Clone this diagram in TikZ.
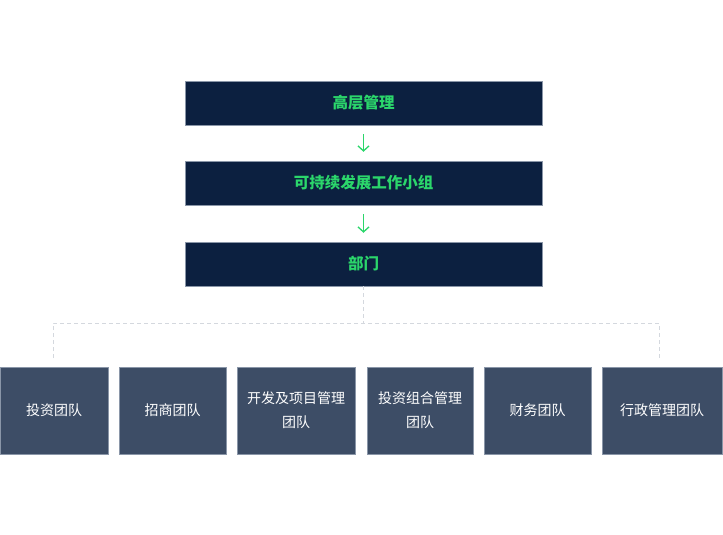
\documentclass[tikz,border=0pt]{standalone}
\usepackage{fontspec}
\newfontfamily\cjk{Noto Sans CJK SC}
\usetikzlibrary{arrows.meta}
\definecolor{navy}{HTML}{0C2040}
\definecolor{grn}{HTML}{2BD66B}
\definecolor{slate}{HTML}{3D4D66}
\definecolor{slateb}{HTML}{8A96A8}
\definecolor{dashc}{HTML}{D4D8DE}
\begin{document}
\begin{tikzpicture}[x=1pt,y=-1pt,
  topbox/.style={fill=navy,draw=slateb,line width=0.4pt,minimum width=357pt,minimum height=44pt,inner sep=0pt,text=grn,font=\cjk\bfseries\fontsize{15.5}{18}\selectfont},
  teambox/.style={fill=slate,draw=slateb,line width=0.4pt,minimum height=87pt,inner sep=0pt,text=white,align=center,font=\cjk\fontsize{14}{24}\selectfont},
  garrow/.style={draw=grn,line width=1.3pt,-{Straight Barb[length=5pt,width=11pt,line width=1.3pt]}},
  dline/.style={draw=dashc,line width=0.8pt,dash pattern=on 4pt off 3pt}]
\useasboundingbox (0,0) rectangle (723,535);
\node[topbox] (a) at (363.5,103) {高层管理};
\node[topbox] (b) at (363.5,183) {可持续发展工作小组};
\node[topbox] (c) at (363.5,264) {部门};
\draw[garrow] ([yshift=-9pt]a.south) -- ([yshift=9pt]b.north);
\draw[garrow] ([yshift=-9pt]b.south) -- ([yshift=9pt]c.north);
\node[teambox,minimum width=108pt] (t1) at (54,410.5) {投资团队};
\node[teambox,minimum width=107pt] (t2) at (172.5,410.5) {招商团队};
\node[teambox,minimum width=118pt] (t3) at (296,410.5) {开发及项目管理\\团队};
\node[teambox,minimum width=106pt] (t4) at (420,410.5) {投资组合管理\\团队};
\node[teambox,minimum width=107pt] (t5) at (537.5,410.5) {财务团队};
\node[teambox,minimum width=120pt] (t6) at (662,410.5) {行政管理团队};
\coordinate (h) at (363.5,323);
\coordinate (hl) at (53,323);
\coordinate (hr) at (659,323);
\coordinate (vl) at (53,358);
\coordinate (vr) at (659,358);
\draw[dline] (c.south) -- (h);
\draw[dline] (vl) -- (hl) -- (hr) -- (vr);
\end{tikzpicture}
\end{document}
